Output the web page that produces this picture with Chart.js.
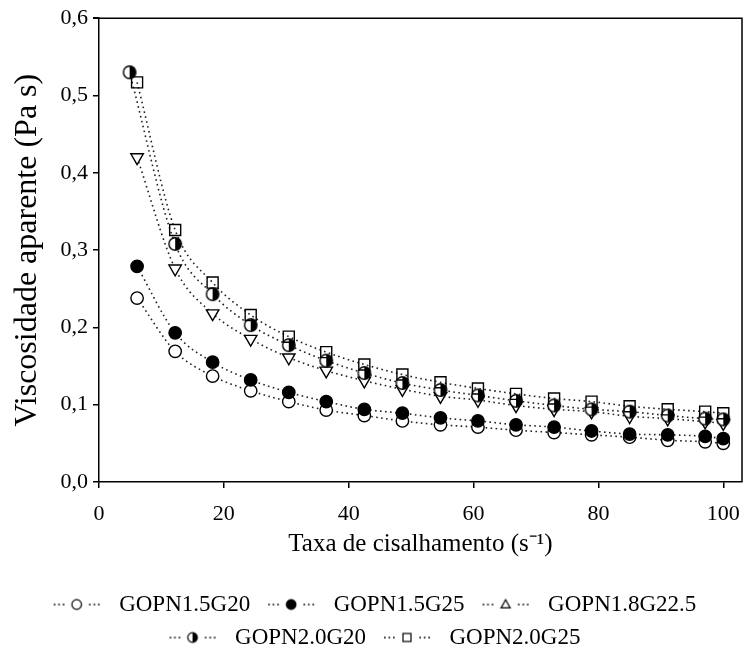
<!DOCTYPE html>
<html><head><meta charset="utf-8">
<script src="https://cdn.jsdelivr.net/npm/chart.js@4"></script>
<style>html,body{margin:0;padding:0;background:#fff}#wrap{width:743px;height:655px;position:relative}</style>
</head><body><div id="wrap"><canvas id="c"></canvas></div>
<script>
// ---- data ----
const shearRate = [6.1, 12.2, 18.2, 24.3, 30.4, 36.4, 42.5, 48.6, 54.7, 60.7, 66.8, 72.9, 78.9, 85.0, 91.1, 97.1, 100];
const shearRateG20 = [4.9, 12.2, 18.2, 24.3, 30.4, 36.4, 42.5, 48.6, 54.7, 60.7, 66.8, 72.9, 78.9, 85.0, 91.1, 97.1, 100];
const seriesNames = ['GOPN1.5G20', 'GOPN1.5G25', 'GOPN1.8G22.5', 'GOPN2.0G20', 'GOPN2.0G25'];
const gopn15g20 = [0.238, 0.169, 0.137, 0.118, 0.104, 0.093, 0.086, 0.079, 0.074, 0.071, 0.067, 0.064, 0.061, 0.058, 0.054, 0.052, 0.050];
const gopn15g25 = [0.279, 0.193, 0.155, 0.132, 0.116, 0.104, 0.094, 0.089, 0.083, 0.079, 0.074, 0.071, 0.066, 0.062, 0.061, 0.059, 0.056];
const gopn18g225 = [0.420, 0.276, 0.218, 0.185, 0.161, 0.144, 0.131, 0.120, 0.111, 0.106, 0.099, 0.094, 0.091, 0.085, 0.082, 0.078, 0.076];
const gopn20g20 = [0.530, 0.308, 0.243, 0.203, 0.177, 0.157, 0.141, 0.128, 0.119, 0.112, 0.105, 0.099, 0.094, 0.091, 0.086, 0.082, 0.081];
const gopn20g25 = [0.517, 0.326, 0.258, 0.216, 0.188, 0.168, 0.152, 0.139, 0.129, 0.121, 0.114, 0.108, 0.104, 0.098, 0.094, 0.091, 0.089];
const xTickValues = [0, 20, 40, 60, 80, 100];
const yTickValues = [0, 0.1, 0.2, 0.3, 0.4, 0.5, 0.6];

const FONT = 'Liberation Serif';

function pts(xs, ys) { return ys.map((y, i) => ({x: xs[i], y})); }

function halfCircle(r, lw) {
  const s = Math.ceil(2 * r + lw + 2);
  const c = document.createElement('canvas'); c.width = s; c.height = s;
  const g = c.getContext('2d'); const m = s / 2;
  g.beginPath(); g.arc(m, m, r, 0, 2 * Math.PI); g.fillStyle = '#fff'; g.fill();
  g.beginPath(); g.moveTo(m, m - r); g.arc(m, m, r, -Math.PI / 2, Math.PI / 2); g.closePath(); g.fillStyle = '#000'; g.fill();
  g.beginPath(); g.arc(m, m, r, 0, 2 * Math.PI); g.lineWidth = lw; g.strokeStyle = '#000'; g.stroke();
  return c;
}

function legendIcon(kind) {
  const W = 62, H = 16;
  const c = document.createElement('canvas'); c.width = W; c.height = H;
  const g = c.getContext('2d'); const cx = W / 2, cy = H / 2;
  g.fillStyle = '#222';
  [8, 12.5, 17].forEach(x => { g.fillRect(x, cy - 0.75, 1.7, 1.7); g.fillRect(W - x - 1.7, cy - 0.75, 1.7, 1.7); });
  const r = 4.8;
  g.lineWidth = 1.2; g.strokeStyle = '#000';
  if (kind === 'open' || kind === 'filled') {
    g.beginPath(); g.arc(cx, cy, r, 0, 2 * Math.PI);
    g.fillStyle = kind === 'open' ? '#fff' : '#000'; g.fill(); g.stroke();
  } else if (kind === 'tri') {
    g.beginPath(); g.moveTo(cx, cy - r); g.lineTo(cx + r * 0.95, cy + r * 0.7); g.lineTo(cx - r * 0.95, cy + r * 0.7); g.closePath();
    g.fillStyle = '#fff'; g.fill(); g.stroke();
  } else if (kind === 'half') {
    g.beginPath(); g.arc(cx, cy, r, 0, 2 * Math.PI); g.fillStyle = '#fff'; g.fill();
    g.beginPath(); g.moveTo(cx, cy - r); g.arc(cx, cy, r, -Math.PI / 2, Math.PI / 2); g.closePath(); g.fillStyle = '#000'; g.fill();
    g.beginPath(); g.arc(cx, cy, r, 0, 2 * Math.PI); g.stroke();
  } else {
    g.fillStyle = '#fff'; g.fillRect(cx - 4, cy - 4, 8, 8); g.strokeRect(cx - 4, cy - 4, 8, 8);
  }
  return c;
}
const legendIcons = [legendIcon('open'), legendIcon('filled'), legendIcon('tri'), legendIcon('half'), legendIcon('square')];

const lineCommon = {
  borderColor: '#222', borderWidth: 1.6, borderDash: [1.6, 3.4], borderCapStyle: 'butt',
  cubicInterpolationMode: 'monotone', showLine: true, fill: false,
  pointBorderColor: '#000', pointBorderWidth: 1.4
};

const datasets = [
  Object.assign({}, lineCommon, {label: seriesNames[0], data: pts(shearRate, gopn15g20), pointStyle: 'circle', pointRadius: 6.2, pointBackgroundColor: '#fff', order: 5}),
  Object.assign({}, lineCommon, {label: seriesNames[1], data: pts(shearRate, gopn15g25), pointStyle: 'circle', pointRadius: 6.2, pointBackgroundColor: '#000', order: 4}),
  Object.assign({}, lineCommon, {label: seriesNames[2], data: pts(shearRate, gopn18g225), pointStyle: 'triangle', pointRotation: 180, pointRadius: 7.2, pointBackgroundColor: '#fff', order: 3}),
  Object.assign({}, lineCommon, {label: seriesNames[3], data: pts(shearRateG20, gopn20g20), pointStyle: halfCircle(6.2, 1.4), pointRadius: 6.2, order: 2}),
  Object.assign({}, lineCommon, {label: seriesNames[4], data: pts(shearRate, gopn20g25), pointStyle: 'rect', pointRadius: 7.8, pointBackgroundColor: 'rgba(255,255,255,0)', order: 1})
];

const frame = {
  id: 'frame',
  beforeDatasetsDraw(chart) {
    const {ctx, chartArea: a} = chart;
    ctx.save(); ctx.strokeStyle = '#000'; ctx.lineWidth = 1.5;
    ctx.beginPath(); ctx.moveTo(a.left - 6, a.top); ctx.lineTo(a.right, a.top); ctx.lineTo(a.right, a.bottom); ctx.stroke();
    ctx.restore();
  }
};

new Chart(document.getElementById('c'), {
  type: 'scatter',
  data: {datasets},
  options: {
    responsive: true, maintainAspectRatio: false, animation: false,
    layout: {autoPadding: false, padding: {top: 17, right: 1, left: 0, bottom: -4}},
    plugins: {
      tooltip: {enabled: false},
      legend: {
        position: 'bottom',
        labels: {
          usePointStyle: true, pointStyleWidth: 62, padding: 10,
          font: {family: FONT, size: 23}, color: '#000',
          generateLabels: chart => chart.data.datasets.map((ds, i) => ({
            text: ds.label, pointStyle: legendIcons[i], rotation: 0,
            fillStyle: '#fff', strokeStyle: '#fff', lineWidth: 0, hidden: false, datasetIndex: i, fontColor: '#000'
          }))
        }
      }
    },
    scales: {
      x: {
        type: 'linear', min: 0, max: 103,
        afterBuildTicks: s => { s.ticks = xTickValues.map(v => ({value: v})); },
        afterFit: s => { s.height = 101; },
        ticks: {font: {family: FONT, size: 22, lineHeight: 2.4}, color: '#000', padding: 0, callback: v => String(v)},
        grid: {drawOnChartArea: false, drawTicks: true, tickLength: 6, color: '#000', lineWidth: 1.5},
        border: {display: true, color: '#000', width: 1.5},
        title: {display: true, text: 'Taxa de cisalhamento (s\u207B\u00B9)', font: {family: FONT, size: 25}, color: '#000', padding: {top: 0, bottom: 24}}
      },
      y: {
        type: 'linear', min: 0, max: 0.6,
        afterBuildTicks: s => { s.ticks = yTickValues.map(v => ({value: v})); },
        afterFit: s => { s.width = 99; },
        ticks: {font: {family: FONT, size: 22}, color: '#000', padding: 5, callback: v => v.toFixed(1).replace('.', ',')},
        grid: {drawOnChartArea: false, drawTicks: true, tickLength: 6, color: '#000', lineWidth: 1.5},
        border: {display: true, color: '#000', width: 1.5},
        title: {display: true, text: 'Viscosidade aparente (Pa s)', font: {family: FONT, size: 32}, color: '#000', padding: {top: 8, bottom: 0}}
      }
    }
  },
  plugins: [frame]
});
</script>
</body></html>
